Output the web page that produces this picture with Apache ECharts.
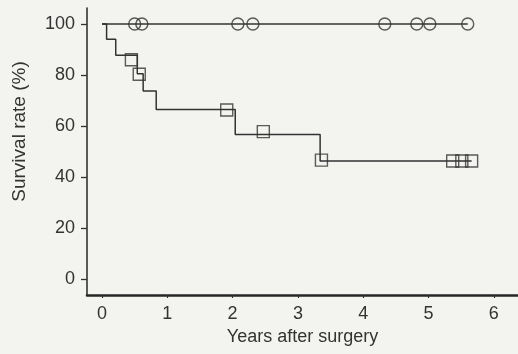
<!DOCTYPE html>
<html>
<head>
<meta charset="utf-8">
<script src="https://cdn.jsdelivr.net/npm/echarts@6/dist/echarts.min.js"></script>
<style>
  html, body { margin: 0; padding: 0; background: #f3f3f0; }
  #main { width: 518px; height: 354px; }
</style>
</head>
<body>
<div id="main"></div>
<script>
// tick labels
const xTicks = [0, 1, 2, 3, 4, 5, 6];
const yTicks = [0, 20, 40, 60, 80, 100];

// group with deaths (squares): step curve, value after each drop
const sqTimes = [0, 0.07, 0.21, 0.54, 0.63, 0.83, 2.04, 3.34, 5.66];
const sqSurv = [100, 94, 87.8, 80.5, 73.7, 66.5, 56.7, 46.3, 46.3];
// censored cases (squares)
const sqCensorTimes = [0.45, 0.57, 1.91, 2.47, 3.36, 5.37, 5.51, 5.66];
const sqCensorVals = [86, 80.3, 66.3, 57.8, 46.6, 46.3, 46.3, 46.3];

// group without deaths (circles)
const ciTimes = [0, 5.6];
const ciSurv = [100, 100];
const ciCensorTimes = [0.5, 0.61, 2.08, 2.31, 4.33, 4.82, 5.02, 5.6];
const ciCensorVals = [100, 100, 100, 100, 100, 100, 100, 100];

const ink = '#333333';
const font = 'Liberation Sans';

const zip = (a, b) => a.map((v, i) => [v, b[i]]);

const chart = echarts.init(document.getElementById('main'), null, { renderer: 'canvas' });

const option = {
  backgroundColor: '#f3f3f0',
  animation: false,
  grid: { left: 87, right: 0, top: 8, bottom: 59 },
  xAxis: {
    type: 'value',
    min: -0.23,
    max: 6.37,
    name: 'Years after surgery',
    nameLocation: 'middle',
    nameGap: 32,
    nameTextStyle: { fontSize: 18, color: ink, fontFamily: font },
    axisLine: { onZero: false, lineStyle: { color: '#262626', width: 2.5 } },
    axisTick: { customValues: xTicks, length: 3, lineStyle: { color: ink, width: 1.2 } },
    axisLabel: { customValues: xTicks, margin: 10, fontSize: 18, color: ink, fontFamily: font },
    splitLine: { show: false }
  },
  yAxis: {
    type: 'value',
    min: -6.3,
    max: 106.3,
    name: 'Survival rate (%)',
    nameLocation: 'middle',
    nameRotate: 90,
    nameGap: 58,
    nameTextStyle: { fontSize: 19, color: ink, fontFamily: font, padding: [0, 0, 0, 40] },
    axisLine: { onZero: false, lineStyle: { color: ink, width: 1.6 } },
    axisTick: { customValues: yTicks, length: 6, lineStyle: { color: ink, width: 1.3 } },
    axisLabel: { customValues: yTicks, margin: 12, fontSize: 18, color: ink, fontFamily: font },
    splitLine: { show: false }
  },
  series: [
    {
      type: 'line',
      step: 'end',
      data: zip(sqTimes, sqSurv),
      showSymbol: false,
      lineStyle: { color: ink, width: 1.5 },
      z: 2
    },
    {
      type: 'line',
      data: zip(ciTimes, ciSurv),
      showSymbol: false,
      lineStyle: { color: ink, width: 1.5 },
      z: 2
    },
    {
      type: 'scatter',
      data: zip(sqCensorTimes, sqCensorVals),
      symbol: 'rect',
      symbolSize: 12,
      itemStyle: { color: 'rgba(0,0,0,0)', borderColor: ink, borderWidth: 1.4 },
      z: 3
    },
    {
      type: 'scatter',
      data: zip(ciCensorTimes, ciCensorVals),
      symbol: 'circle',
      symbolSize: 12,
      itemStyle: { color: 'rgba(0,0,0,0)', borderColor: ink, borderWidth: 1.4 },
      z: 3
    }
  ]
};

chart.setOption(option);
</script>
</body>
</html>
